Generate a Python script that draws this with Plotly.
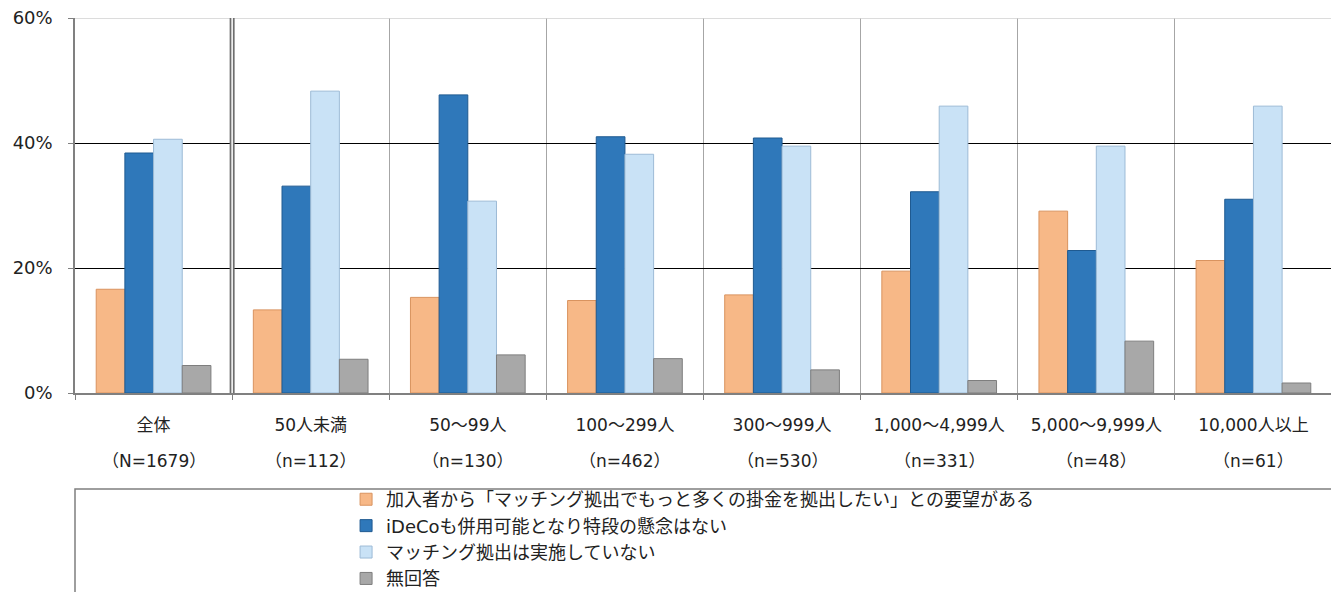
import plotly.graph_objects as go

categories = ["全体", "50人未満", "50～99人", "100～299人", "300～999人",
              "1,000～4,999人", "5,000～9,999人", "10,000人以上"]
sample_sizes = ["（N=1679）", "（n=112）", "（n=130）", "（n=462）", "（n=530）",
                "（n=331）", "（n=48）", "（n=61）"]

series_names = [
    "加入者から「マッチング拠出でもっと多くの掛金を拠出したい」との要望がある",
    "iDeCoも併用可能となり特段の懸念はない",
    "マッチング拠出は実施していない",
    "無回答",
]
request_more = [16.6, 13.3, 15.3, 14.8, 15.7, 19.5, 29.1, 21.2]
no_concern = [38.4, 33.1, 47.7, 41.0, 40.8, 32.2, 22.8, 31.0]
not_implemented = [40.6, 48.3, 30.7, 38.2, 39.5, 45.9, 39.5, 45.9]
no_answer = [4.4, 5.4, 6.1, 5.5, 3.7, 2.0, 8.3, 1.6]

series_values = [request_more, no_concern, not_implemented, no_answer]
fill_colors = ["#F7B887", "#2F78BA", "#C9E2F6", "#A8A8A8"]
edge_colors = ["#D9935F", "#1F5A91", "#9DBBD6", "#7E7E7E"]

font_family = "DejaVu Sans, Noto Sans CJK JP, sans-serif"
text_color = "#222222"

fig = go.Figure()
for name, vals, fc, ec in zip(series_names, series_values, fill_colors, edge_colors):
    fig.add_trace(go.Bar(
        x=categories, y=vals, name=name,
        marker=dict(color=fc, line=dict(color=ec, width=1)),
        hovertemplate="%{x}: %{y:.1f}%<extra></extra>",
    ))

# second row of category labels (sample sizes)
for cat, n in zip(categories, sample_sizes):
    fig.add_annotation(x=cat, xref="x", y=-0.181, yref="paper", text=n,
                       showarrow=False, yanchor="middle",
                       font=dict(size=17, family=font_family, color=text_color))

fig.update_layout(
    width=1331, height=584,
    margin=dict(l=67, r=7, t=10, b=199, autoexpand=False),
    paper_bgcolor="white", plot_bgcolor="white",
    barmode="group", bargap=0.27, bargroupgap=0,
    font=dict(family=font_family, size=17, color=text_color),
    xaxis=dict(
        type="category", tickmode="array", tickvals=categories, ticktext=categories,
        tickson="boundaries", ticks="outside", ticklen=5, tickcolor="#808080",
        tickangle=0, automargin=False, ticklabelstandoff=16,
        showgrid=True, gridcolor="#A6A6A6", gridwidth=1,
        showline=True, linecolor="#808080", linewidth=1.5,
        tickfont=dict(size=17, family=font_family, color=text_color),
        range=[-0.5, 7.5],
    ),
    yaxis=dict(
        range=[0, 60], dtick=20, ticksuffix="%", automargin=False,
        ticklabelstandoff=12, ticklabeloverflow="allow",
        showgrid=True, gridcolor="#000000", gridwidth=1,
        showline=True, linecolor="#808080", linewidth=1.5,
        ticks="outside", ticklen=5, tickcolor="#808080",
        tickfont=dict(size=18, family=font_family, color=text_color),
        zeroline=False,
    ),
    legend=dict(
        xref="container", yref="container",
        x=0.254, y=0.19, xanchor="left", yanchor="top",
        orientation="v", traceorder="normal",
        font=dict(size=18, family=font_family, color=text_color),
        bgcolor="rgba(0,0,0,0)", itemwidth=30, tracegroupgap=0,
    ),
    shapes=[
        dict(type="line", xref="paper", yref="y", x0=0, x1=1, y0=60, y1=60,
             line=dict(color="#D0D0D0", width=1.5), layer="above"),
        dict(type="line", xref="x", yref="paper", x0=0.5, x1=0.5, y0=0, y1=1,
             line=dict(color="#6E6E6E", width=5), layer="above"),
        dict(type="line", xref="x", yref="paper", x0=0.5, x1=0.5, y0=0, y1=1,
             line=dict(color="white", width=1.5), layer="above"),
        dict(type="rect", xref="paper", yref="paper", x0=0, x1=1, y0=-0.256, y1=-0.62,
             line=dict(color="#7F7F7F", width=1.5), fillcolor="rgba(0,0,0,0)"),
    ],
)

fig.write_html("out.html")
